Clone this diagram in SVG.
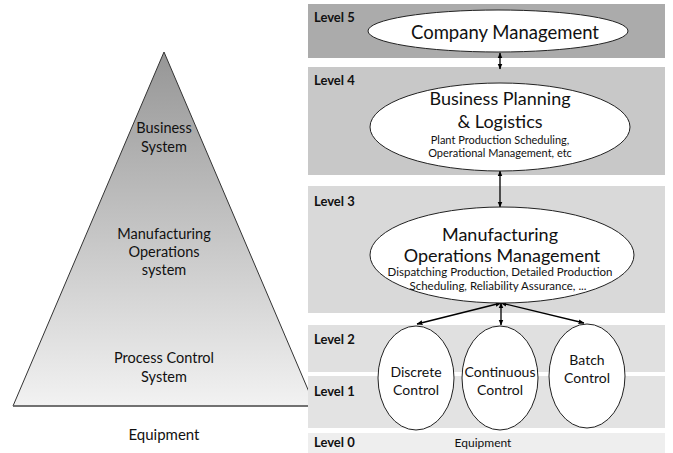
<svg xmlns="http://www.w3.org/2000/svg" width="673" height="453" viewBox="0 0 673 453">
<defs>
<linearGradient id="tri" x1="0" y1="0" x2="0" y2="1">
<stop offset="0" stop-color="#969696"/>
<stop offset="1" stop-color="#f2f2f2"/>
</linearGradient>
<marker id="ah" viewBox="0 0 10 10" refX="9" refY="5" markerWidth="6" markerHeight="6" markerUnits="userSpaceOnUse" orient="auto-start-reverse">
<path d="M0,1 L10,5 L0,9 z" fill="#000"/>
</marker>
<style>
.lvl{font-family:Lato,"Liberation Sans",sans-serif;font-weight:bold;font-size:13px;fill:#111}
.t{font-family:Lato,"Liberation Sans",sans-serif;fill:#111;text-anchor:middle}
.ell{fill:#fff;stroke:#222;stroke-width:1}
.con{stroke:#000;stroke-width:1.3;fill:none;marker-start:url(#ah);marker-end:url(#ah)}
</style>
</defs>
<rect x="0" y="0" width="673" height="453" fill="#fff"/>
<g id="pyramid">
<polygon points="164,52 315,406 13,406" fill="url(#tri)" stroke="#333" stroke-width="1"/>
<line x1="13" y1="406" x2="315" y2="406" stroke="#666" stroke-width="1.5"/>
<text class="t" x="164" y="133" font-size="14.5">Business</text>
<text class="t" x="164" y="152" font-size="14.5">System</text>
<text class="t" x="164" y="239" font-size="14.5">Manufacturing</text>
<text class="t" x="164" y="257" font-size="14.5">Operations</text>
<text class="t" x="164" y="275" font-size="14.5">system</text>
<text class="t" x="164" y="363" font-size="14.5">Process Control</text>
<text class="t" x="164" y="382" font-size="14.5">System</text>
<text class="t" x="164" y="440" font-size="15">Equipment</text>
</g>
<g id="bands">
<rect x="308" y="4" width="357" height="54" fill="#ababab"/>
<rect x="308" y="67" width="357" height="108" fill="#c8c8c8"/>
<rect x="308" y="186" width="357" height="127" fill="#d9d9d9"/>
<rect x="308" y="325" width="357" height="47" fill="#e0e0e0"/>
<rect x="308" y="376" width="357" height="52" fill="#e3e3e3"/>
<rect x="308" y="433" width="357" height="20" fill="#eeeeee"/>
<text class="lvl" x="314" y="22">Level 5</text>
<text class="lvl" x="314" y="85">Level 4</text>
<text class="lvl" x="314" y="206">Level 3</text>
<text class="lvl" x="314" y="344">Level 2</text>
<text class="lvl" x="314" y="396">Level 1</text>
<text class="lvl" x="314" y="447">Level 0</text>
<text class="t" x="483" y="447" font-size="12">Equipment</text>
</g>
<g id="connectors">
<line class="con" x1="500" y1="53" x2="500" y2="69"/>
<line class="con" x1="500" y1="171" x2="500" y2="207"/>
<line class="con" x1="501" y1="303" x2="417" y2="324"/>
<line class="con" x1="501" y1="303" x2="501" y2="325"/>
<line class="con" x1="501" y1="303" x2="584" y2="323"/>
</g>
<g id="company">
<ellipse class="ell" cx="498" cy="31" rx="130" ry="21"/>
<text class="t" x="505" y="39" font-size="18.5">Company Management</text>
</g>
<g id="business">
<ellipse class="ell" cx="500" cy="127" rx="130" ry="44"/>
<text class="t" x="500" y="105" font-size="18">Business Planning</text>
<text class="t" x="500" y="128" font-size="18">&amp; Logistics</text>
<text class="t" x="500" y="144" font-size="11">Plant Production Scheduling,</text>
<text class="t" x="500" y="157" font-size="11">Operational Management, etc</text>
</g>
<g id="mom">
<ellipse class="ell" cx="502" cy="255" rx="132" ry="48"/>
<text class="t" x="500" y="241" font-size="18">Manufacturing</text>
<text class="t" x="502" y="262" font-size="18">Operations Management</text>
<text class="t" x="500" y="276" font-size="11.5">Dispatching Production, Detailed Production</text>
<text class="t" x="498" y="290" font-size="11.5">Scheduling, Reliability Assurance, ...</text>
</g>
<g id="discrete">
<ellipse class="ell" cx="416" cy="378" rx="38" ry="52"/>
<text class="t" x="416" y="377" font-size="14">Discrete</text>
<text class="t" x="416" y="395" font-size="14">Control</text>
</g>
<g id="continuous">
<ellipse class="ell" cx="500" cy="378" rx="38" ry="52"/>
<text class="t" x="500" y="377" font-size="14">Continuous</text>
<text class="t" x="500" y="395" font-size="14">Control</text>
</g>
<g id="batch">
<ellipse class="ell" cx="587" cy="376" rx="38" ry="52"/>
<text class="t" x="587" y="365" font-size="14">Batch</text>
<text class="t" x="587" y="383" font-size="14">Control</text>
</g>
</svg>
